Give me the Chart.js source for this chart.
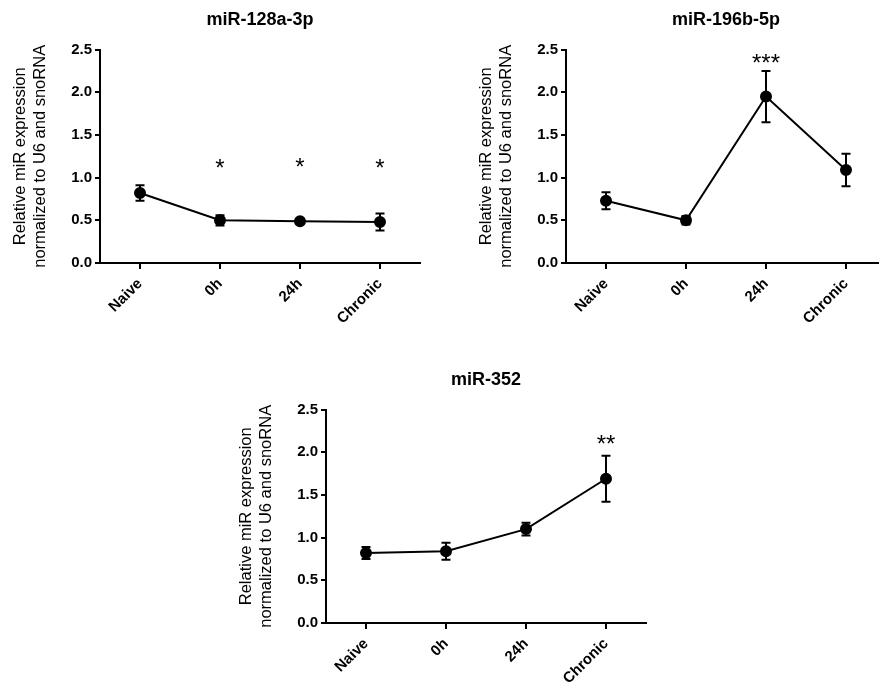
<!DOCTYPE html>
<html>
<head>
<meta charset="utf-8">
<title>miRNA expression</title>
<script src="https://cdn.jsdelivr.net/npm/chart.js@4.4.1/dist/chart.umd.min.js"></script>
<style>
  html, body { margin: 0; padding: 0; background: #fff; overflow: hidden; width: 879px; height: 682px; }
  .panel { position: absolute; }
</style>
</head>
<body>
<canvas id="chart128" class="panel" width="440" height="330" style="left:0px; top:0px;"></canvas>
<canvas id="chart196" class="panel" width="440" height="330" style="left:466px; top:0px;"></canvas>
<canvas id="chart352" class="panel" width="440" height="322" style="left:226px; top:360px;"></canvas>
<script>
// Data (mean +/- error, significance marks)
const categories = ['Naive', '0h', '24h', 'Chronic'];
const yTicks = [0, 0.5, 1.0, 1.5, 2.0, 2.5];
const yTitle = ['Relative miR expression', 'normalized to U6 and snoRNA'];

const mir128Mean = [0.82, 0.50, 0.49, 0.48];
const mir128Err = [0.09, 0.06, 0.02, 0.10];
const mir128Sig = ['', '*', '*', '*'];
const mir128SigY = [null, 1.15, 1.16, 1.14];

const mir196Mean = [0.73, 0.50, 1.95, 1.09];
const mir196Err = [0.10, 0.05, 0.30, 0.19];
const mir196Sig = ['', '', '***', ''];
const mir196SigY = [null, null, 2.37, null];

const mir352Mean = [0.82, 0.84, 1.10, 1.69];
const mir352Err = [0.07, 0.10, 0.075, 0.27];
const mir352Sig = ['', '', '', '**'];
const mir352SigY = [null, null, null, 2.13];

const FONT = "'Liberation Sans', Arial, sans-serif";

function crearPanel(id, titulo, medias, errores, signos, alturaSignos) {
    const canvas = document.getElementById(id);
    const altoEjeX = canvas.height - 263; // chart area bottom at y=263 in every panel

    // error bars drawn under the points
    const barrasError = {
        id: 'barrasError',
        beforeDatasetsDraw(chart) {
            const { ctx, scales: { x, y } } = chart;
            ctx.save();
            ctx.strokeStyle = '#000';
            ctx.lineWidth = 2;
            medias.forEach((m, i) => {
                const px = x.getPixelForValue(i);
                const yTop = y.getPixelForValue(m + errores[i]);
                const yBot = y.getPixelForValue(m - errores[i]);
                ctx.beginPath();
                ctx.moveTo(px, yTop); ctx.lineTo(px, yBot);
                ctx.moveTo(px - 4.5, yTop); ctx.lineTo(px + 4.5, yTop);
                ctx.moveTo(px - 4.5, yBot); ctx.lineTo(px + 4.5, yBot);
                ctx.stroke();
            });
            ctx.restore();
        }
    };

    // asterisks above the groups
    const asteriscos = {
        id: 'asteriscos',
        afterDatasetsDraw(chart) {
            const { ctx, scales: { x, y } } = chart;
            const size = 24;
            ctx.save();
            ctx.fillStyle = '#000';
            ctx.font = `${size}px ${FONT}`;
            ctx.textAlign = 'center';
            ctx.textBaseline = 'alphabetic';
            signos.forEach((s, i) => {
                if (!s) return;
                ctx.fillText(s, x.getPixelForValue(i), y.getPixelForValue(alturaSignos[i]) + size * 0.45);
            });
            ctx.restore();
        }
    };

    return new Chart(canvas.getContext('2d'), {
        type: 'line',
        data: {
            labels: categories,
            datasets: [{
                data: medias,
                borderColor: '#000',
                borderWidth: 2,
                backgroundColor: '#000',
                pointRadius: 5,
                pointBackgroundColor: '#000',
                pointBorderColor: '#000',
                tension: 0,
                fill: false
            }]
        },
        options: {
            responsive: false,
            animation: false,
            events: [],
            layout: { padding: { top: 0, right: 20, bottom: 0, left: 0 } },
            plugins: {
                legend: { display: false },
                tooltip: { enabled: false },
                title: {
                    display: true,
                    text: titulo,
                    fullSize: false,
                    color: '#000',
                    font: { family: FONT, size: 18, weight: 'bold', lineHeight: 1.2 },
                    padding: { top: 9, bottom: 19 }
                }
            },
            scales: {
                x: {
                    type: 'category',
                    offset: true,
                    afterFit: s => { s.height = altoEjeX; },
                    grid: { drawOnChartArea: false, drawTicks: true, tickLength: 6, color: '#000', lineWidth: 2 },
                    border: { display: true, color: '#000', width: 2 },
                    ticks: {
                        color: '#000',
                        autoSkip: false,
                        minRotation: 45,
                        maxRotation: 45,
                        padding: 6,
                        font: { family: FONT, size: 15, weight: 'bold' }
                    }
                },
                y: {
                    min: 0,
                    max: 2.5,
                    afterBuildTicks: s => { s.ticks = yTicks.map(v => ({ value: v })); },
                    afterFit: s => { s.width = 100; },
                    grid: { drawOnChartArea: false, drawTicks: true, tickLength: 5, color: '#000', lineWidth: 2 },
                    border: { display: true, color: '#000', width: 2 },
                    ticks: {
                        color: '#000',
                        padding: 3,
                        font: { family: FONT, size: 15, weight: 'bold' },
                        callback: v => Number(v).toFixed(1)
                    },
                    title: {
                        display: true,
                        text: yTitle,
                        color: '#000',
                        font: { family: FONT, size: 16.5, lineHeight: 20 / 16.5 },
                        padding: { top: 10, bottom: 0 }
                    }
                }
            }
        },
        plugins: [barrasError, asteriscos]
    });
}

crearPanel('chart128', 'miR-128a-3p', mir128Mean, mir128Err, mir128Sig, mir128SigY);
crearPanel('chart196', 'miR-196b-5p', mir196Mean, mir196Err, mir196Sig, mir196SigY);
crearPanel('chart352', 'miR-352', mir352Mean, mir352Err, mir352Sig, mir352SigY);
</script>
</body>
</html>
